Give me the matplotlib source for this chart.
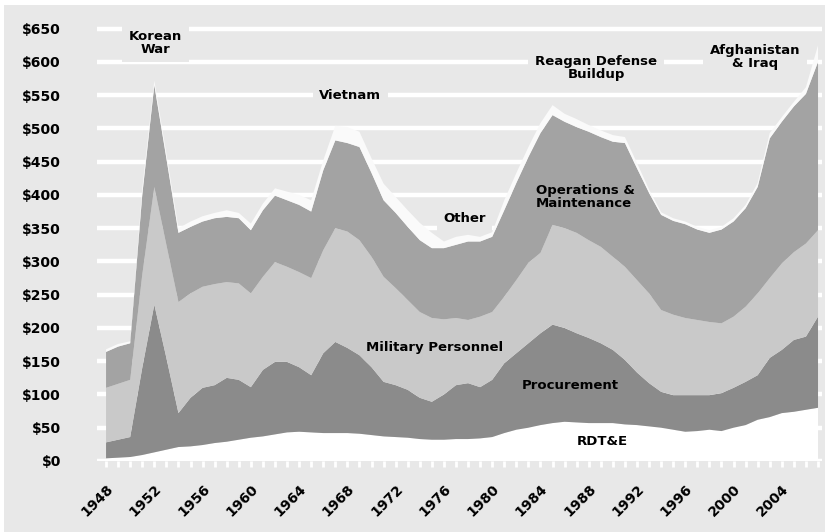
import matplotlib
matplotlib.use("Agg")
import matplotlib.pyplot as plt
import matplotlib.transforms as mtransforms
from matplotlib.patches import Rectangle
import numpy as np

years = list(range(1948, 2008))

rdte = [4, 5, 6, 9, 13, 17, 21, 22, 24, 27, 29, 32, 35, 37, 40,
        43, 44, 43, 42, 42, 42, 41, 39, 37, 36, 35, 33, 32, 32,
        33, 33, 34, 36, 42, 47, 50, 54, 57, 59, 58, 57, 57, 57, 55,
        54, 52, 50, 47, 44, 45, 47, 45, 50, 54, 62, 66, 72, 74, 77, 80]
procurement = [24, 27, 30, 131, 222, 138, 51, 73, 86, 87, 96, 90, 76, 100, 109,
               106, 97, 86, 120, 137, 128, 118, 102, 82, 78, 72, 62, 57, 68,
               81, 84, 77, 86, 105, 115, 127, 138, 148, 141, 134, 128, 120, 110, 97,
               79, 65, 54, 52, 55, 54, 52, 57, 60, 65, 67, 89, 95, 108, 110, 137]
military_personnel = [82, 84, 86, 140, 177, 170, 167, 157, 152, 152, 144, 145, 141, 140, 150,
                      143, 143, 146, 155, 171, 175, 173, 166, 158, 146, 135, 129, 126, 113,
                      101, 95, 106, 102, 100, 110, 121, 121, 150, 150, 151, 147, 145, 140, 140,
                      139, 135, 123, 121, 116, 113, 110, 105, 107, 113, 123, 120, 130, 132, 140, 130]
operations_maintenance = [54, 56, 55, 120, 153, 130, 104, 100, 98, 99, 98, 98, 95, 100, 100,
                          100, 101, 100, 120, 132, 133, 140, 126, 115, 113, 110, 108, 105, 107,
                          110, 118, 113, 113, 130, 146, 159, 180, 165, 160, 159, 163, 165, 173, 186,
                          168, 151, 143, 141, 141, 136, 134, 141, 143, 148, 160, 210, 213, 219, 225, 253]
other = [4, 4, 3, 10, 7, 7, 7, 8, 8, 8, 10, 8, 10, 10, 11,
         13, 15, 17, 15, 22, 24, 23, 22, 25, 24, 25, 26, 23, 10,
         12, 10, 7, 7, 15, 15, 15, 15, 15, 12, 12, 10, 10, 10, 9,
         8, 5, 4, 4, 4, 4, 4, 4, 5, 5, 6, 8, 7, 7, 10, 25]

y_ticks = list(range(0, 651, 50))
y_tick_labels = ["$%d" % v for v in y_ticks]
x_ticks = list(range(1948, 2005, 4))
x_tick_labels = [str(v) for v in x_ticks]

annotations = [
    ("Korean\nWar", 1952.1, 629, "center"),
    ("Vietnam", 1968.25, 550, "center"),
    ("Reagan Defense\nBuildup", 1988.6, 591, "center"),
    ("Afghanistan\n& Iraq", 2001.8, 607, "center"),
    ("Other", 1977.7, 364, "center"),
]
inner_labels = [
    ("Operations &\nMaintenance", 1983.6, 397, "left"),
    ("Military Personnel", 1975.2, 170, "center"),
    ("Procurement", 1986.5, 114, "center"),
    ("RDT&E", 1989.1, 30, "center"),
]

bg = "#e8e8e8"
colors = ["#ffffff", "#8b8b8b", "#c9c9c9", "#a3a3a3", "#fafafa"]

W, H = 825, 532
fig = plt.figure(figsize=(W / 100, H / 100), dpi=100, facecolor="white")
fig.patches.append(Rectangle((4 / W, 0), 1, 1 - 5 / H, transform=fig.transFigure,
                             facecolor=bg, edgecolor="none", zorder=-10))

ax_left, ax_right = 97, 822
ax_bottom, ax_top = 461, 22
ax = fig.add_axes([ax_left / W, (H - ax_bottom) / H, (ax_right - ax_left) / W,
                   (ax_bottom - ax_top) / H])
ax.set_facecolor(bg)
ax.set_xlim(1947.25, 2007.33)
ax.set_ylim(0, 660)

ax.stackplot(years, rdte, procurement, military_personnel, operations_maintenance, other,
             colors=colors, linewidth=0, zorder=3)

ax.set_yticks(y_ticks)
ax.set_yticklabels(y_tick_labels)
ax.yaxis.grid(True, color="white", linewidth=3.2, zorder=0)
ax.set_axisbelow(True)
ax.tick_params(axis="y", length=0, pad=26, labelsize=10)
for lab in ax.get_yticklabels():
    lab.set_fontweight("bold")

ax.set_xticks(x_ticks)
ax.set_xticks(years, minor=True)
ax.set_xticklabels(x_tick_labels, rotation=45, ha="right", va="top",
                   rotation_mode="anchor", fontsize=10, fontweight="bold")
ax.tick_params(axis="x", which="both", length=4, width=2, color="white", pad=11)
offset = mtransforms.ScaledTranslation(0 / 100, 0, fig.dpi_scale_trans)
for lab in ax.get_xticklabels():
    lab.set_transform(lab.get_transform() + offset)

for s in ax.spines.values():
    s.set_visible(False)

for text, x, y, ha in annotations:
    ax.text(x, y, text, ha=ha, va="center", fontsize=9.5, fontweight="bold",
            linespacing=1.0, zorder=5,
            bbox=dict(boxstyle="square,pad=0.5", facecolor=bg, edgecolor="none"))
for text, x, y, ha in inner_labels:
    ax.text(x, y, text, ha=ha, va="center", fontsize=9.5, fontweight="bold",
            linespacing=1.0, zorder=5)

fig.savefig("out.png", dpi=100, facecolor=fig.get_facecolor())
